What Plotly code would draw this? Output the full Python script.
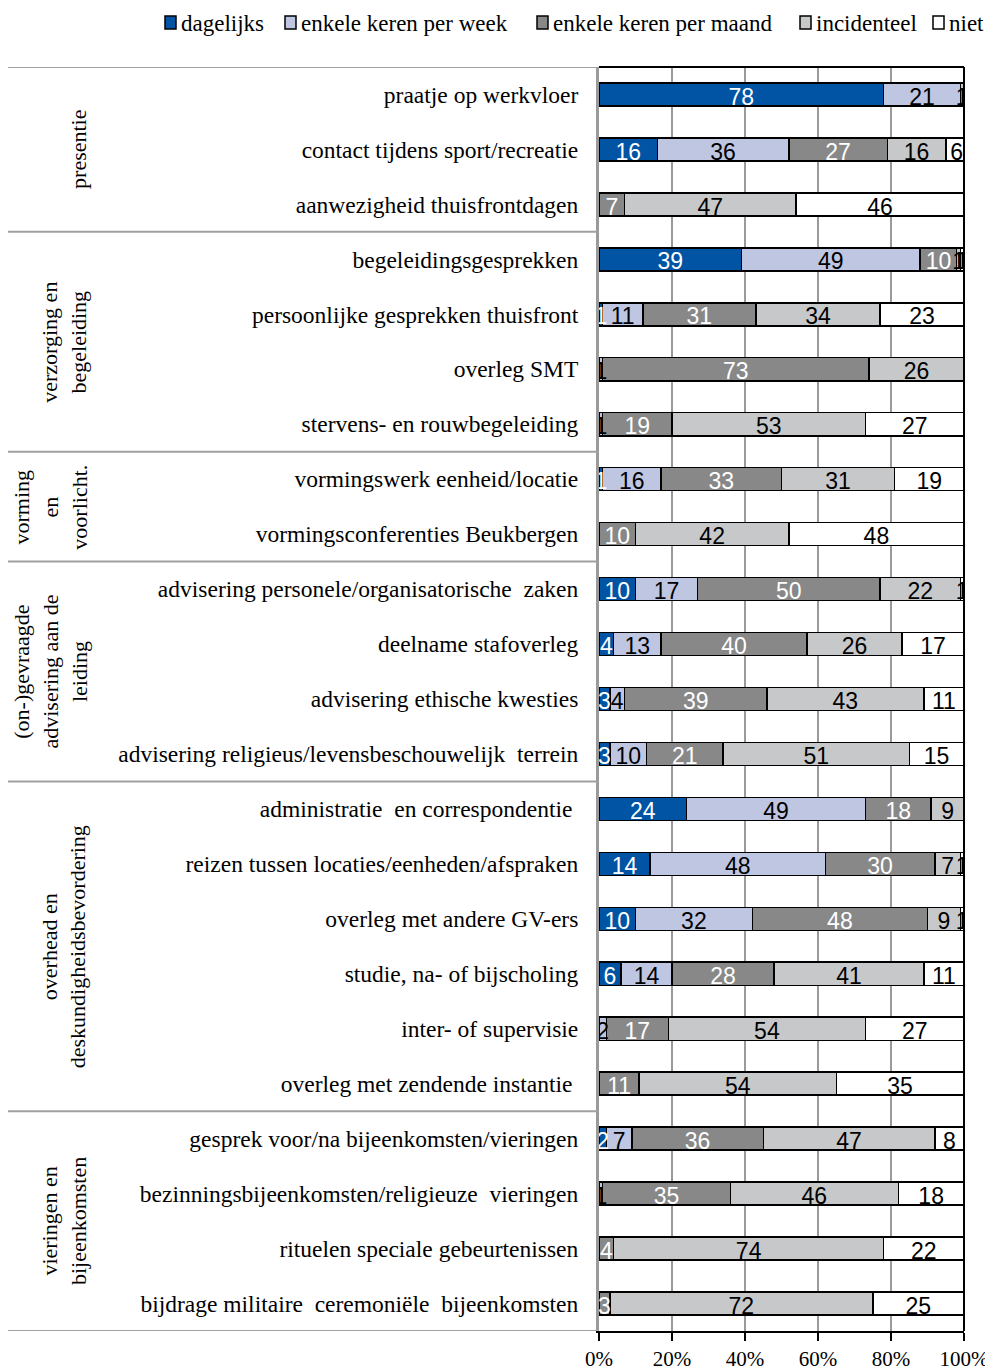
import plotly.graph_objects as go

categories = [
    "praatje op werkvloer",
    "contact tijdens sport/recreatie",
    "aanwezigheid thuisfrontdagen",
    "begeleidingsgesprekken",
    "persoonlijke gesprekken thuisfront",
    "overleg SMT",
    "stervens- en rouwbegeleiding",
    "vormingswerk eenheid/locatie",
    "vormingsconferenties Beukbergen",
    "advisering personele/organisatorische  zaken",
    "deelname stafoverleg",
    "advisering ethische kwesties",
    "advisering religieus/levensbeschouwelijk  terrein",
    "administratie  en correspondentie ",
    "reizen tussen locaties/eenheden/afspraken",
    "overleg met andere GV-ers",
    "studie, na- of bijscholing",
    "inter- of supervisie",
    "overleg met zendende instantie ",
    "gesprek voor/na bijeenkomsten/vieringen",
    "bezinningsbijeenkomsten/religieuze  vieringen",
    "rituelen speciale gebeurtenissen",
    "bijdrage militaire  ceremoniële  bijeenkomsten",
]

dagelijks =   [78, 16, 0, 39, 1, 0, 0, 1, 0, 10, 4, 3, 3, 24, 14, 10, 6, 0, 0, 2, 0, 0, 0]
per_week =    [21, 36, 0, 49, 11, 1, 1, 16, 0, 17, 13, 4, 10, 49, 48, 32, 14, 2, 0, 7, 1, 0, 0]
per_maand =   [0, 27, 7, 10, 31, 73, 19, 33, 10, 50, 40, 39, 21, 18, 30, 48, 28, 17, 11, 36, 35, 4, 3]
incidenteel = [1, 16, 47, 1, 34, 26, 53, 31, 42, 22, 26, 43, 51, 9, 7, 9, 41, 54, 54, 47, 46, 74, 72]
niet =        [0, 6, 46, 1, 23, 0, 27, 19, 48, 1, 17, 11, 15, 0, 1, 1, 11, 27, 35, 8, 18, 22, 25]

series_names = ["dagelijks", "enkele keren per week", "enkele keren per maand", "incidenteel", "niet"]
series_values = [dagelijks, per_week, per_maand, incidenteel, niet]
series_colors = ["#0054A3", "#BEC6E2", "#888888", "#C7C8C9", "#FFFFFF"]
label_colors = ["white", "black", "white", "black", "black"]

groups = [
    ("presentie", 0, 2),
    ("verzorging en<br>begeleiding", 3, 6),
    ("vorming<br>en<br>voorlicht.", 7, 8),
    ("(on-)gevraagde<br>advisering aan de<br>leiding", 9, 12),
    ("overhead en<br>deskundigheidsbevordering", 13, 18),
    ("vieringen en<br>bijeenkomsten", 19, 22),
]

x_ticks = [0, 20, 40, 60, 80, 100]
x_ticktext = ["0%", "20%", "40%", "60%", "80%", "100%"]

SERIF = "Liberation Serif, Times New Roman, serif"
SANS = "Liberation Sans, Arial, sans-serif"

# page offset (body margin) and figure geometry
OFF = 8
W, H = 977, 1364
L = 599 - OFF
R = W - (964 - OFF)
T = 67 - OFF
B = H - (1331 - OFF)
pw = W - L - R
ph = H - T - B
n = len(categories)
LABEL_SHIFT = 0.08  # data labels sit slightly low in the reference


def xpaper(screen_x):
    return (screen_x - OFF - L) / pw


def ypaper(screen_y):
    return 1 - (screen_y - OFF - T) / ph


fig = go.Figure()
for name, vals, col in zip(series_names, series_values, series_colors):
    fig.add_trace(go.Bar(
        y=categories, x=vals, name=name, orientation="h",
        marker=dict(color=col, line=dict(color="black", width=1.5)),
        width=0.42, hoverinfo="skip", showlegend=False,
    ))

# data labels
cum = [0] * n
for vals, lc in zip(series_values, label_colors):
    xs, txt = [], []
    for i, v in enumerate(vals):
        xs.append(cum[i] + v / 2)
        txt.append(str(v) if v > 0 else "")
        cum[i] += v
    fig.add_trace(go.Scatter(
        y=categories, x=xs, text=txt, mode="text", showlegend=False,
        textposition="middle center", hoverinfo="skip", yaxis="y2",
        textfont=dict(family=SANS, size=23, color=lc),
    ))

shapes = []
for y in [-0.5, 2.5, 6.5, 8.5, 12.5, 18.5, 22.5]:
    shapes.append(dict(type="line", xref="paper", yref="y",
                       x0=xpaper(8), x1=0, y0=y, y1=y,
                       line=dict(color="#A0A0A0", width=2)))
shapes.append(dict(type="line", xref="paper", yref="paper", x0=0, x1=1, y0=1, y1=1,
                   line=dict(color="black", width=2)))
shapes.append(dict(type="line", xref="paper", yref="paper", x0=1, x1=1, y0=0, y1=1,
                   line=dict(color="black", width=2)))

annotations = []
for label, a, b in groups:
    annotations.append(dict(
        text=label, textangle=-90, xref="paper", yref="y",
        x=xpaper(93), y=(a + b) / 2, xanchor="right", yanchor="middle",
        showarrow=False, align="center",
        font=dict(family=SERIF, size=22, color="black"),
    ))

# custom legend (layout positions)
legend_x = [165, 285, 537, 800, 933]
for name, col, lx in zip(series_names, series_colors, legend_x):
    shapes.append(dict(type="rect", xref="paper", yref="paper",
                       x0=xpaper(lx), x1=xpaper(lx + 11),
                       y0=ypaper(29), y1=ypaper(16),
                       fillcolor=col, line=dict(color="black", width=1.5)))
    annotations.append(dict(
        text=name, xref="paper", yref="paper", x=xpaper(lx + 14), y=ypaper(23),
        xanchor="left", yanchor="middle", showarrow=False,
        font=dict(family=SERIF, size=23, color="black"),
    ))

fig.update_layout(
    width=W, height=H,
    margin=dict(l=L, r=R, t=T, b=B, autoexpand=False),
    barmode="stack", bargap=0.58,
    plot_bgcolor="white", paper_bgcolor="white",
    shapes=shapes, annotations=annotations,
    showlegend=False,
    xaxis=dict(range=[0, 100], tickvals=x_ticks, ticktext=x_ticktext,
               showgrid=True, gridcolor="#9A9A9A", gridwidth=2,
               showline=True, linecolor="black", linewidth=2,
               ticks="outside", ticklen=8, tickcolor="black", tickwidth=2,
               ticklabelstandoff=0, ticklabeloverflow="allow",
               tickfont=dict(family=SERIF, size=21, color="black"),
               zeroline=False, fixedrange=True),
    yaxis=dict(categoryorder="array", categoryarray=categories,
               range=[n - 0.5, -0.5], showgrid=False,
               showline=True, linecolor="#9A9A9A", linewidth=3,
               ticks="", ticklabelstandoff=13,
               tickfont=dict(family=SERIF, size=23.5, color="black"),
               fixedrange=True),
    yaxis2=dict(categoryorder="array", categoryarray=categories,
                range=[n - 0.5 - LABEL_SHIFT, -0.5 - LABEL_SHIFT],
                overlaying="y", visible=False, fixedrange=True),
)

fig.write_html("out.html")
